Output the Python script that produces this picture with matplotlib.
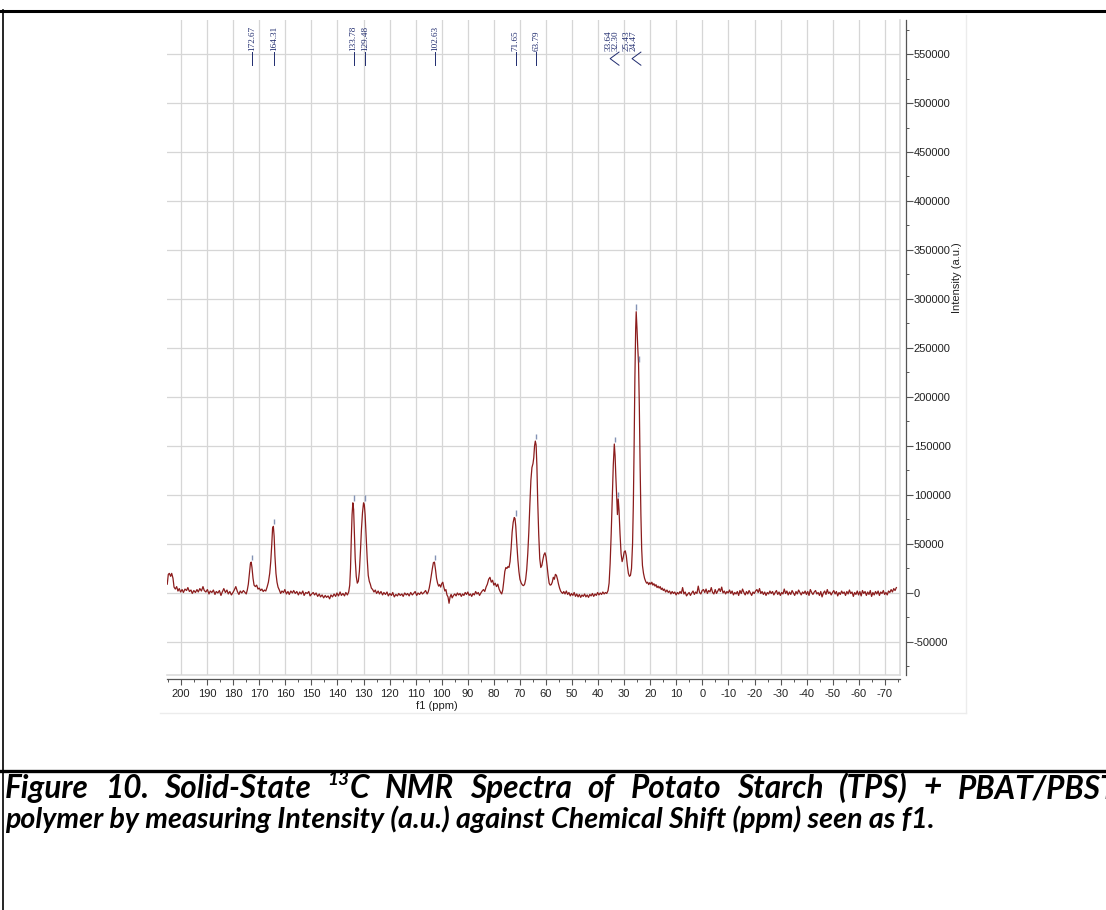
import numpy as np
import matplotlib.pyplot as plt
from matplotlib.ticker import MultipleLocator, FuncFormatter
from matplotlib.lines import Line2D
import matplotlib.transforms as mtransforms

plt.rcParams['axes.unicode_minus'] = False

# spectrum: (chemical shift ppm, intensity a.u.)
edge_left = [
    (205.3, 9000), (204.9, 19000), (204.5, 20000), (204.0, 17000), (203.6, 20000),
    (203.1, 15000), (202.7, 6000), (202.2, 4000), (201.7, 6500), (201.2, 2000),
    (200.7, 4500), (200.2, 1000), (199.6, 3500), (199.1, 500), (198.5, 4000),
    (197.9, 2500), (197.4, 5500), (196.8, 1500), (196.2, 3000), (195.7, -500),
    (195.1, 2500), (194.5, 500), (193.9, 3500), (193.4, 1000), (192.8, 4500),
    (192.2, 2000), (191.6, 6500), (191.1, 2500), (190.5, 1000), (189.9, 3500),
    (189.3, -1000), (188.8, 2000), (188.2, 500), (187.6, 3000), (187.0, -1500),
    (186.5, 1500), (185.9, 0), (185.3, 2500), (184.7, -2500), (184.2, 1000),
    (183.6, 4500), (183.0, 500), (182.4, 3000), (181.9, -1000), (181.3, 1500),
    (180.7, -2000), (180.1, 500), (179.6, 3000), (179.0, 6500), (178.4, 1500),
    (177.8, -1500), (177.3, 2000), (176.7, 0), (176.1, 2500), (175.5, 500),
    (175.0, -1000),
]
carbonyl = [
    (174.6, 3000), (174.2, 9000), (173.8, 20000), (173.4, 30000), (173.1, 31500),
    (172.8, 26000), (172.4, 15000), (172.0, 8000), (171.5, 6500), (171.0, 8000),
    (170.5, 4000), (170.0, 5000), (169.5, 2500), (169.0, 4000), (168.5, 1500),
    (168.0, 3000), (167.5, 2000), (167.0, 6000), (166.5, 11000), (166.0, 20000),
    (165.6, 32000), (165.2, 50000), (164.9, 66000), (164.6, 68000), (164.3, 58000),
    (164.0, 38000), (163.6, 20000), (163.2, 11000), (162.8, 6000), (162.3, 3000),
]
base_160_136 = [
    (161.8, -500), (161.3, 2000), (160.7, 500), (160.2, 3500), (159.6, -1000),
    (159.0, 1500), (158.5, -1500), (157.9, 2000), (157.3, 0), (156.8, 2500),
    (156.2, -500), (155.6, 1500), (155.0, -2000), (154.5, 1000), (153.9, -1000),
    (153.3, 2000), (152.8, -2500), (152.2, 500), (151.6, -500), (151.0, 1500),
    (150.5, -3000), (149.9, -1000), (149.3, 500), (148.8, -2000), (148.2, 0),
    (147.6, -3500), (147.0, -1000), (146.5, -4000), (145.9, -2000), (145.3, -5000),
    (144.7, -2500), (144.2, -4500), (143.6, -3000), (143.0, -6000), (142.5, -2000),
    (141.9, -4000), (141.3, -1000), (140.7, -3500), (140.2, 0), (139.6, -3000),
    (139.0, 1000), (138.5, -2500), (137.9, -500), (137.3, -3000), (136.8, 500),
    (136.2, -2000), (135.7, 1000),
]
aromatic = [
    (135.3, 8000), (135.0, 25000), (134.7, 55000), (134.4, 80000), (134.1, 92000),
    (133.8, 85000), (133.5, 60000), (133.2, 35000), (132.8, 17000), (132.4, 10000),
    (132.0, 12000), (131.6, 22000), (131.2, 42000), (130.8, 65000), (130.4, 82000),
    (130.0, 92000), (129.7, 90000), (129.4, 80000), (129.0, 58000), (128.6, 35000),
    (128.2, 18000), (127.8, 12000), (127.4, 9000), (127.0, 5000), (126.5, 3500),
]
base_126_105 = [
    (126.0, 1000), (125.5, 3000), (125.0, -500), (124.4, 2000), (123.9, -1000),
    (123.3, 1500), (122.7, -2000), (122.2, 500), (121.6, -1500), (121.0, 1000),
    (120.5, -3000), (119.9, -500), (119.3, -2500), (118.8, 500), (118.2, -4000),
    (117.6, -1500), (117.0, -3000), (116.5, -500), (115.9, -2500), (115.3, -1000),
    (114.8, -3500), (114.2, 0), (113.6, -2000), (113.1, -500), (112.5, -3000),
    (111.9, 500), (111.3, -2000), (110.8, -500), (110.2, 1500), (109.6, -2500),
    (109.1, 0), (108.5, -1500), (107.9, 1000), (107.4, -1000), (106.8, 500),
    (106.2, 2500), (105.6, -1000),
]
anomeric = [
    (105.2, 1000), (104.8, 5000), (104.4, 11000), (104.0, 18000), (103.6, 25000),
    (103.2, 31000), (102.8, 31500), (102.4, 24000), (102.0, 15000), (101.6, 10000),
    (101.2, 7000), (100.8, 8500), (100.4, 6000), (100.0, 9500), (99.6, 11000),
    (99.2, 6000), (98.8, 2000), (98.4, 3500), (98.0, -2000), (97.6, -4000),
    (97.2, -10500), (96.8, -4000), (96.4, -1500),
]
base_96_85 = [
    (96.0, -5000), (95.5, -2500), (95.0, -1000), (94.5, -3000), (94.0, 0),
    (93.5, -2000), (93.0, -500), (92.5, -3500), (92.0, -1000), (91.5, -2500),
    (91.0, 500), (90.5, -1500), (90.0, 1000), (89.5, -2500), (89.0, -1000),
    (88.5, -3500), (88.0, -500), (87.5, -2000), (87.0, 1500), (86.5, -1000),
    (86.0, 500), (85.5, -2500), (85.0, 0),
]
starch_ring = [
    (84.5, 2000), (84.0, 3500), (83.5, 1500), (83.0, 6000), (82.5, 9000),
    (82.0, 14000), (81.5, 16000), (81.0, 11000), (80.5, 13000), (80.0, 8000),
    (79.5, 10000), (79.0, 6500), (78.5, 9000), (78.0, 4000), (77.5, 1000),
    (77.0, -1000), (76.6, 3000), (76.2, 12000), (75.8, 22000), (75.4, 26000),
    (75.0, 25000), (74.6, 27000), (74.2, 26000), (73.8, 32000), (73.4, 45000),
    (73.0, 62000), (72.6, 72000), (72.2, 77000), (71.9, 76000), (71.6, 68000),
    (71.2, 50000), (70.8, 34000), (70.4, 22000), (70.0, 14000), (69.5, 10000),
    (69.0, 8000), (68.6, 7500), (68.2, 9000), (67.8, 14000), (67.4, 24000),
    (67.0, 40000), (66.6, 62000), (66.2, 90000), (65.8, 115000), (65.4, 128000),
    (65.0, 132000), (64.7, 138000), (64.4, 150000), (64.1, 155000), (63.8, 151000),
    (63.5, 130000), (63.2, 95000), (62.8, 60000), (62.4, 35000), (62.0, 26000),
    (61.6, 28000), (61.2, 34000), (60.8, 39000), (60.4, 41000), (60.0, 37000),
    (59.6, 28000), (59.2, 18000), (58.8, 10000), (58.4, 8000), (58.0, 8500),
    (57.6, 11000), (57.2, 16000), (56.8, 14000), (56.4, 19000), (56.0, 18000),
    (55.6, 14000), (55.2, 9000), (54.8, 5000), (54.4, 2000), (54.0, 500),
]
base_53_36 = [
    (53.6, -500), (53.2, 1500), (52.7, -1000), (52.2, 2000), (51.7, -1500),
    (51.2, 500), (50.7, -3000), (50.2, -500), (49.7, -2500), (49.2, 500),
    (48.7, -3500), (48.2, -1000), (47.7, -4000), (47.2, -1500), (46.7, -4500),
    (46.2, -2000), (45.7, -3500), (45.2, -1000), (44.7, -4000), (44.2, -2000),
    (43.7, -4500), (43.2, -1500), (42.7, -3000), (42.2, -500), (41.7, -3500),
    (41.2, -1000), (40.7, -2500), (40.2, 500), (39.7, -2000), (39.2, 0),
    (38.7, -1500), (38.2, 1000), (37.7, -1000), (37.2, 500), (36.7, -500),
]
aliphatic = [
    (36.2, 2500), (35.8, 10000), (35.4, 30000), (35.0, 60000), (34.6, 95000),
    (34.2, 130000), (33.8, 152000), (33.5, 140000), (33.2, 118000), (32.9, 100000),
    (32.6, 80000), (32.3, 96000), (32.0, 85000), (31.6, 60000), (31.2, 40000),
    (30.8, 32000), (30.4, 36000), (30.0, 42000), (29.6, 43000), (29.2, 38000),
    (28.8, 28000), (28.4, 20000), (28.0, 17000), (27.6, 18000), (27.2, 25000),
    (26.8, 50000), (26.5, 90000), (26.2, 150000), (25.9, 220000), (25.6, 270000),
    (25.4, 287000), (25.1, 270000), (24.8, 250000), (24.5, 234000), (24.2, 190000),
    (23.9, 130000), (23.6, 80000), (23.3, 45000), (23.0, 28000), (22.6, 20000),
    (22.2, 15000), (21.8, 12000), (21.4, 10000), (21.0, 11000), (20.6, 8500),
    (20.2, 10500), (19.8, 9000), (19.4, 11000), (19.0, 8000), (18.6, 9500),
    (18.2, 7000), (17.8, 8500), (17.4, 5500), (17.0, 7000), (16.6, 5000),
    (16.2, 6500), (15.8, 3500), (15.4, 5000), (15.0, 2500), (14.6, 4000),
]
edge_right = [
    (14.1, 1000), (13.6, 3000), (13.1, 500), (12.6, 2000), (12.1, -1000),
    (11.6, 1500), (11.1, -500), (10.6, 1000), (10.1, -2000), (9.6, 500),
    (9.1, -1000), (8.6, 1500), (8.1, -500), (7.6, 5500), (7.1, -1000),
    (6.6, 1000), (6.1, -3000), (5.6, -1000), (5.1, 500), (4.6, -2500),
    (4.1, 0), (3.6, 2000), (3.1, -1500), (2.6, 1000), (2.1, -500),
    (1.6, 7000), (1.1, 500), (0.6, -1000), (0.1, 2500), (-0.4, 3500),
    (-0.9, 500), (-1.4, 4000), (-1.9, -500), (-2.4, 2500), (-2.9, 1000),
    (-3.4, 5500), (-3.9, 500), (-4.4, -1000), (-4.9, 3500), (-5.4, -500),
    (-5.9, 2000), (-6.4, 4500), (-6.9, 1500), (-7.4, 6000), (-7.9, 0),
    (-8.4, 2000), (-8.9, -1000), (-9.4, 1500), (-9.9, 0), (-10.4, 3000),
    (-10.9, -500), (-11.4, 2000), (-11.9, -2000), (-12.4, 500), (-12.9, -1000),
    (-13.4, 1500), (-13.9, -2500), (-14.4, 2500), (-14.9, -500), (-15.4, 4000),
    (-15.9, 500), (-16.4, -2000), (-16.9, 1500), (-17.4, -1000), (-17.9, 2500),
    (-18.4, 0), (-18.9, -2500), (-19.4, 1000), (-19.9, -500), (-20.4, 2000),
    (-20.9, 3500), (-21.4, 500), (-21.9, 4500), (-22.4, -500), (-22.9, 1500),
    (-23.4, -1500), (-23.9, 1000), (-24.4, -2500), (-24.9, 500), (-25.4, -1000),
    (-25.9, 2000), (-26.4, -500), (-26.9, 1500), (-27.4, -2000), (-27.9, 500),
    (-28.4, 2500), (-28.9, -1500), (-29.4, 1000), (-29.9, -2500), (-30.4, 500),
    (-30.9, -1000), (-31.4, 4000), (-31.9, -500), (-32.4, 2000), (-32.9, -2000),
    (-33.4, 1000), (-33.9, -1500), (-34.4, 2500), (-34.9, 0), (-35.4, -2500),
    (-35.9, 1500), (-36.4, -1000), (-36.9, 3000), (-37.4, 500), (-37.9, -2000),
    (-38.4, 1000), (-38.9, -500), (-39.4, 2000), (-39.9, -1500), (-40.4, 1500),
    (-40.9, -2500), (-41.4, 3500), (-41.9, 500), (-42.4, -1500), (-42.9, 1000),
    (-43.4, 2500), (-43.9, -1000), (-44.4, 500), (-44.9, -2500), (-45.4, 1500),
    (-45.9, -4000), (-46.4, 0), (-46.9, 2000), (-47.4, -1500), (-47.9, 3500),
    (-48.4, -500), (-48.9, 1000), (-49.4, -2000), (-49.9, 500), (-50.4, 2500),
    (-50.9, -1000), (-51.4, 1500), (-51.9, -3000), (-52.4, 500), (-52.9, -1500),
    (-53.4, 2000), (-53.9, -500), (-54.4, 1000), (-54.9, -2500), (-55.4, 1500),
    (-55.9, -1000), (-56.4, 3000), (-56.9, -500), (-57.4, 1000), (-57.9, -3500),
    (-58.4, 500), (-58.9, -1500), (-59.4, 2000), (-59.9, -2000), (-60.4, 1500),
    (-60.9, -3000), (-61.4, 2500), (-61.9, -500), (-62.4, 1500), (-62.9, -2500),
    (-63.4, 1000), (-63.9, -1500), (-64.4, 2500), (-64.9, -3500), (-65.4, 500),
    (-65.9, -2000), (-66.4, 1500), (-66.9, -1000), (-67.4, 2000), (-67.9, -2500),
    (-68.4, 1000), (-68.9, -500), (-69.4, 2500), (-69.9, -1500), (-70.4, 500),
    (-70.9, -2000), (-71.4, 2000), (-71.9, 500), (-72.4, 3500), (-72.9, 1000),
    (-73.4, 4500), (-73.9, 2500), (-74.4, 5500),
]

# picked peaks
peak_shift = [172.67, 164.31, 133.78, 129.48, 102.63, 71.65, 63.79, 33.64, 32.30, 25.43, 24.47]
peak_top = [31500, 68000, 92000, 92000, 31500, 77000, 155000, 152000, 96000, 287000, 234000]

x_ticks = list(range(200, -71, -10))
y_ticks = list(range(-50000, 550001, 50000))

caption_1 = ["Figure", "10.", "Solid-State", "13C", "NMR", "Spectra", "of", "Potato",
             "Starch", "(TPS)", "+", "PBAT/PBST"]
caption_2 = "polymer by measuring Intensity (a.u.) against Chemical Shift (ppm) seen as f1."

spectrum = (edge_left + carbonyl + base_160_136 + aromatic + base_126_105 + anomeric
            + base_96_85 + starch_ring + base_53_36 + aliphatic + edge_right)
ppm = np.array([p for p, v in spectrum])
inten = np.array([v for p, v in spectrum])

W, H = 1106, 910
fig = plt.figure(figsize=(W / 100, H / 100), dpi=100)
fig.patch.set_facecolor('white')

def fx(x):
    return x / W

def fy(y):
    return (H - y) / H

ax = fig.add_axes([fx(167), fy(675), (900 - 167) / W, (675 - 20) / H])
ax.plot(ppm, inten, color='#8b1c1c', lw=0.9, zorder=3)

ax.set_xlim(205.4, -75.8)
ax.set_ylim(-83700, 584700)
ax.set_xticks(x_ticks)
ax.set_yticks(y_ticks)
ax.xaxis.set_minor_locator(MultipleLocator(5))
ax.yaxis.set_minor_locator(MultipleLocator(25000))
ax.yaxis.set_major_formatter(FuncFormatter(lambda v, p: f"{v:.0f}"))
ax.grid(True, which='major', color='#d6d6d6', lw=0.9, zorder=0)

for side in ['top', 'left']:
    ax.spines[side].set_visible(False)
ax.spines['bottom'].set_position(('outward', 3))
ax.spines['right'].set_position(('outward', 4))
for side in ['bottom', 'right']:
    ax.spines[side].set_color('#555555')
    ax.spines[side].set_linewidth(0.9)

ax.yaxis.tick_right()
tick_font = ['Liberation Sans', 'DejaVu Sans']
ax.tick_params(axis='x', which='major', direction='out', length=4, width=0.8,
               color='#555555', labelsize=8, pad=3)
ax.tick_params(axis='x', which='minor', direction='out', length=2, width=0.7, color='#555555')
ax.tick_params(axis='y', which='major', direction='out', length=5, width=0.8,
               color='#555555', labelsize=8, pad=1)
ax.tick_params(axis='y', which='minor', direction='out', length=2.5, width=0.7, color='#555555')
for lab in ax.get_xticklabels() + ax.get_yticklabels():
    lab.set_family(tick_font)
    lab.set_color('#222222')

# light edges of the plotting area
ax.plot([0, 1], [0, 0], transform=ax.transAxes, color='#dcdcdc', lw=1.2, clip_on=False, zorder=1)
ax.plot([1, 1], [0, 1], transform=ax.transAxes, color='#dcdcdc', lw=1.2, clip_on=False, zorder=1)

ax.text((437 - 167) / 733, (675 - 706) / 655, 'f1 (ppm)', transform=ax.transAxes,
        ha='center', va='center', fontsize=8, family=tick_font, color='#222222')
ax.text((957 - 167) / 733, (675 - 278) / 655, 'Intensity (a.u.)', transform=ax.transAxes,
        ha='center', va='center', rotation=90, fontsize=8, family=tick_font, color='#222222')

# peak pick marks and labels
ax.vlines(peak_shift, np.array(peak_top) + 2000, np.array(peak_top) + 7500,
          color='#8393b5', lw=1.0, zorder=4)

label_x = [172.67, 164.31, 133.78, 129.48, 102.63, 71.65, 63.79, 36.0, 33.3, 29.2, 26.5]
grouped = [False] * 7 + [True] * 4
bt = mtransforms.blended_transform_factory(ax.transData, ax.transAxes)
lab_col = '#1f2b6e'
for s, xl, g in zip(peak_shift, label_x, grouped):
    ax.text(xl, 0.9527, f"{s:.2f}", transform=bt, rotation=90, ha='center', va='bottom',
            fontsize=6.6, family=['Liberation Serif', 'DejaVu Serif'], color=lab_col)
    if not g:
        ax.plot([xl, xl], [0.951, 0.931], transform=bt, color=lab_col, lw=0.7)
for vx, ex in [(35.4, 32.0), (27.0, 23.6)]:
    ax.plot([ex, vx, ex], [0.951, 0.941, 0.931], transform=bt, color=lab_col, lw=0.7)

# faint outer frame of the chart picture
fig.add_artist(Line2D([fx(966), fx(966)], [fy(15), fy(713)], color='#ececec', lw=1))
fig.add_artist(Line2D([fx(160), fx(966)], [fy(713), fy(713)], color='#ececec', lw=1))

# table cell borders
fig.add_artist(Line2D([fx(0), fx(W)], [fy(11), fy(11)], color='black', lw=2.2))
fig.add_artist(Line2D([fx(0), fx(W)], [fy(770.5), fy(770.5)], color='black', lw=2.4))
fig.add_artist(Line2D([fx(3), fx(3)], [fy(10), fy(H)], color='black', lw=1.2))

# caption
cap_kw = dict(family=['Lato', 'DejaVu Sans'], weight='bold', style='italic', color='black')
renderer = fig.canvas.get_renderer()

def width_px(s, size):
    t = fig.text(0, 0, s, fontsize=size, **cap_kw)
    w = t.get_window_extent(renderer=renderer).width
    t.remove()
    return w

size = 17 * (935 - 5) / width_px(caption_2, 17)
fig.text(fx(5), fy(828), caption_2, fontsize=size, ha='left', va='baseline', **cap_kw)

# first line is justified across the cell (its end runs past the picture edge)
size1 = size * 1.1
sup_size = size1 * 0.6
widths = []
for w in caption_1:
    if w == "13C":
        widths.append(width_px("13", sup_size) + 1 + width_px("C", size1))
    else:
        widths.append(width_px(w, size1))
x0, x1 = 5, 1118
gap = (x1 - x0 - sum(widths)) / (len(caption_1) - 1)
base1 = 798
x = x0
for w, wd in zip(caption_1, widths):
    if w == "13C":
        w13 = width_px("13", sup_size)
        fig.text(fx(x), fy(base1 - size1 * 100 / 72 * 0.42), "13", fontsize=sup_size,
                 ha='left', va='baseline', **cap_kw)
        fig.text(fx(x + w13 + 1), fy(base1), "C", fontsize=size1, ha='left', va='baseline', **cap_kw)
    else:
        fig.text(fx(x), fy(base1), w, fontsize=size1, ha='left', va='baseline', **cap_kw)
    x += wd + gap

fig.savefig('out.png', dpi=100, facecolor='white')
